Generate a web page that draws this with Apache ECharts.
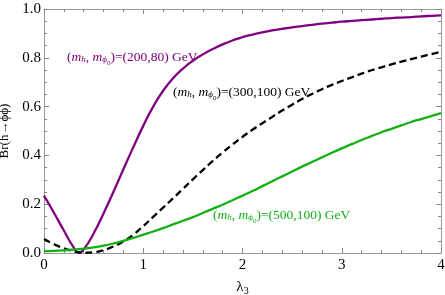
<!DOCTYPE html>
<html>
<head>
<meta charset="utf-8">
<script src="https://cdn.jsdelivr.net/npm/echarts@6/dist/echarts.min.js"></script>
<style>html,body{margin:0;padding:0;background:#fff}#c{width:445px;height:295px}</style>
</head>
<body>
<div id="c"></div>
<script>
const lambda3 = [0,0.1,0.2,0.3,0.35,0.4,0.5,0.6,0.7,0.8,0.9,1.0,1.1,1.2,1.3,1.4,1.5,1.6,1.7,1.8,1.9,2.0,2.1,2.2,2.3,2.4,2.5,2.6,2.7,2.8,2.9,3.0,3.1,3.2,3.3,3.4,3.5,3.6,3.7,3.8,3.9,4.0];
const br200_80 = [0.235,0.165,0.092,0.022,0.001,0.015,0.08,0.162,0.251,0.343,0.434,0.521,0.600,0.665,0.716,0.756,0.788,0.814,0.836,0.855,0.871,0.885,0.895,0.904,0.912,0.919,0.925,0.930,0.935,0.940,0.944,0.948,0.951,0.954,0.957,0.960,0.963,0.965,0.967,0.970,0.972,0.974];
const br300_100 = [0.057,0.036,0.019,0.007,0.003,0.001,0.003,0.012,0.027,0.047,0.075,0.11,0.148,0.186,0.224,0.263,0.302,0.34,0.377,0.412,0.445,0.476,0.505,0.532,0.558,0.584,0.608,0.631,0.652,0.671,0.689,0.705,0.72,0.735,0.749,0.761,0.773,0.784,0.795,0.805,0.815,0.825];
const br500_100 = [0.008,0.009,0.011,0.014,0.016,0.018,0.023,0.03,0.039,0.05,0.062,0.075,0.088,0.102,0.117,0.132,0.147,0.164,0.181,0.198,0.216,0.235,0.254,0.274,0.294,0.314,0.334,0.354,0.373,0.392,0.411,0.429,0.446,0.463,0.479,0.495,0.509,0.523,0.537,0.549,0.561,0.573];
const xTicks = [0,1,2,3,4];
const yTicks = [0.0,0.2,0.4,0.6,0.8,1.0];
const seriesLabels = ['(200,80) GeV','(300,100) GeV','(500,100) GeV'];

const SERIF = '"Liberation Serif","DejaVu Serif",serif';
const FRAME = '#999999';
const TICK = '#888888';
const PURPLE = '#800080', GREEN = '#12b012', BLACK = '#000000';

function pairs(ys){ return lambda3.map((x,i)=>[x,ys[i]]); }

function axisCommon(showLabel, isX){
  return {
    type:'value',
    min: isX ? xTicks[0] : yTicks[0],
    max: isX ? xTicks[xTicks.length-1] : yTicks[yTicks.length-1],
    interval: isX ? 1 : 0.2,
    axisLine:{show:true, onZero:false, lineStyle:{color:FRAME, width:1}},
    axisTick:{show:true, inside:true, length:5, lineStyle:{color:TICK, width:1}},
    minorTick:{show:true, splitNumber: isX ? 5 : 4, length:3, lineStyle:{color:TICK, width:1}},
    splitLine:{show:false},
    minorSplitLine:{show:false},
    axisLabel:{show:showLabel, color:'#000', fontFamily:SERIF, fontSize:15,
      margin: isX ? 5 : 3,
      formatter: isX ? (v)=>String(v) : (v)=>v.toFixed(1)}
  };
}

function curveLabel(x, y, tail, color){
  return {
    type:'text', x:x, y:y, silent:true,
    style:{
      text:'{p|(}{i|m}{s|h}{p|, }{i|m}{s|ϕ}{ss|0}{p|)=' + tail + '}',
      align:'left', verticalAlign:'middle', fill:color,
      font:'13px ' + SERIF,
      rich:{
        p:{fontFamily:SERIF, fontSize:13.5, fill:color},
        i:{fontFamily:SERIF, fontSize:13.5, fontStyle:'italic', fill:color},
        s:{fontFamily:SERIF, fontSize:9, fontStyle:'italic', fill:color, padding:[6,0,0,0]},
        ss:{fontFamily:SERIF, fontSize:7, fill:color, padding:[12,0,0,0]}
      }
    }
  };
}

const chart = echarts.init(document.getElementById('c'), null, {renderer:'canvas'});
const xBottom = Object.assign(axisCommon(true,true), {
  position:'bottom',
  name:'{a|λ}{b|3}', nameLocation:'middle', nameGap:26,
  nameTextStyle:{rich:{a:{fontFamily:SERIF,fontSize:15,color:'#000'}, b:{fontFamily:SERIF,fontSize:10,color:'#000',padding:[7,0,0,0]}}}
});
const xTop = Object.assign(axisCommon(false,true), {position:'top'});
const yLeft = Object.assign(axisCommon(true,false), {
  position:'left',
  name:'Br(h→ϕϕ)', nameLocation:'middle', nameGap:29, nameRotate:90,
  nameTextStyle:{fontFamily:SERIF, fontSize:13, color:'#000'}
});
const yRight = Object.assign(axisCommon(false,false), {position:'right'});

chart.setOption({
  animation:false,
  backgroundColor:'#fff',
  grid:{left:44, right:4, top:9, bottom:42, containLabel:false, outerBoundsMode:'none'},
  xAxis:[xBottom, xTop],
  yAxis:[yLeft, yRight],
  series:[
    {type:'line', xAxisIndex:0, yAxisIndex:0, data:pairs(br200_80), showSymbol:false, smooth:0.5,
      lineStyle:{color:PURPLE, width:2.3}},
    {type:'line', xAxisIndex:0, yAxisIndex:0, data:pairs(br300_100), showSymbol:false, smooth:0.5,
      lineStyle:{color:BLACK, width:2.3, type:[7,4]}},
    {type:'line', xAxisIndex:0, yAxisIndex:0, data:pairs(br500_100), showSymbol:false, smooth:0.5,
      lineStyle:{color:GREEN, width:2.3}}
  ],
  graphic:[
    curveLabel(67, 57, seriesLabels[0], PURPLE),
    curveLabel(173, 92, seriesLabels[1], BLACK),
    curveLabel(213, 215, seriesLabels[2], GREEN)
  ]
});
</script>
</body>
</html>
